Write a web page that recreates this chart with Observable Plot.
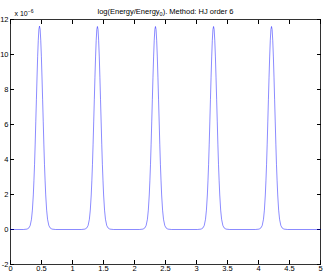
<!DOCTYPE html>
<html>
<head>
<meta charset="utf-8">
<script src="https://cdn.jsdelivr.net/npm/d3@7"></script>
<script src="https://cdn.jsdelivr.net/npm/@observablehq/plot@0.6"></script>
<style>
  html, body { margin: 0; padding: 0; background: #fff; }
  svg { display: block; }
</style>
</head>
<body>
<div id="chart"></div>
<script>
// Peak centres (time) and peak heights (×1e-6)
const peakCenters = [0.468, 1.402, 2.338, 3.275, 4.21];
const peakHeights = [11.62, 11.6, 11.6, 11.6, 11.6];
// Shape of one peak: offset from its centre and fraction of its height
const profileOffsets = [-0.26, -0.2, -0.17, -0.15, -0.13, -0.115, -0.1, -0.09, -0.08, -0.07, -0.06, -0.05, -0.04, -0.03, -0.02, -0.01, 0, 0.01, 0.02, 0.03, 0.04, 0.05, 0.06, 0.07, 0.08, 0.09, 0.1, 0.115, 0.13, 0.15, 0.17, 0.2, 0.26];
const profileValues  = [0, 0.002, 0.008, 0.02, 0.05, 0.095, 0.17, 0.24, 0.32, 0.42, 0.53, 0.64, 0.75, 0.85, 0.93, 0.985, 1, 0.985, 0.93, 0.85, 0.75, 0.64, 0.53, 0.42, 0.32, 0.24, 0.17, 0.095, 0.05, 0.02, 0.008, 0.002, 0];
const xTicks = [0, 0.5, 1, 1.5, 2, 2.5, 3, 3.5, 4, 4.5, 5];
const yTicks = [-2, 0, 2, 4, 6, 8, 10, 12];
const titleText = "log(Energy/Energy0). Method: HJ order 6";

// Build the series from the values above
const series = [{t: 0, v: 0}];
peakCenters.forEach((c, i) => {
  profileOffsets.forEach((o, j) => series.push({t: c + o, v: peakHeights[i] * profileValues[j]}));
});
series.push({t: 5, v: 0});

const font = "Liberation Sans, Arial, Helvetica, sans-serif";
const chart = Plot.plot({
  width: 325,
  height: 273,
  marginLeft: 10,
  marginRight: 5,
  marginTop: 19,
  marginBottom: 9,
  style: {fontFamily: font, fontSize: "7.5px", background: "#fff", color: "#000"},
  x: {domain: [0, 5]},
  y: {domain: [-2, 12]},
  marks: [
    Plot.frame({stroke: "#000", strokeWidth: 0.8}),
    Plot.axisX(xTicks, {anchor: "bottom", tickSize: -4, tickPadding: 5.5, tickFormat: d => String(d), label: null, fontSize: 7.5}),
    Plot.axisX(xTicks, {anchor: "top", tickSize: -4, tickFormat: () => "", label: null}),
    Plot.axisY(yTicks, {anchor: "left", tickSize: -4, tickPadding: 6, tickFormat: d => String(d), label: null, fontSize: 7.5}),
    Plot.axisY(yTicks, {anchor: "right", tickSize: -4, tickFormat: () => "", label: null}),
    Plot.line(series, {x: "t", y: "v", stroke: "#0000ff", strokeWidth: 0.65, strokeOpacity: 0.7}),
    Plot.text([titleText], {frameAnchor: "top", dy: -11, text: d => d, fontSize: 7.5, className: "ttl"}),
    Plot.text(["x 10-6"], {frameAnchor: "top-left", dx: 4, dy: -8, text: d => d, fontSize: 7, textAnchor: "start", className: "expo"})
  ]
});
document.getElementById("chart").appendChild(chart);

// Subscript/superscript formatting
const ttl = chart.querySelector(".ttl text");
if (ttl) {
  ttl.textContent = "";
  const ns = "http://www.w3.org/2000/svg";
  const a = document.createElementNS(ns, "tspan"); a.textContent = "log(Energy/Energy";
  const b = document.createElementNS(ns, "tspan"); b.textContent = "0"; b.setAttribute("font-size", "5.5"); b.setAttribute("dy", "2");
  const c = document.createElementNS(ns, "tspan"); c.textContent = "). Method: HJ order 6"; c.setAttribute("dy", "-2");
  ttl.append(a, b, c);
}
const ex = chart.querySelector(".expo text");
if (ex) {
  ex.textContent = "";
  const ns = "http://www.w3.org/2000/svg";
  const a = document.createElementNS(ns, "tspan"); a.textContent = "x 10";
  const b = document.createElementNS(ns, "tspan"); b.textContent = "−6"; b.setAttribute("font-size", "5"); b.setAttribute("dy", "-3");
  ex.append(a, b);
}
</script>
</body>
</html>
